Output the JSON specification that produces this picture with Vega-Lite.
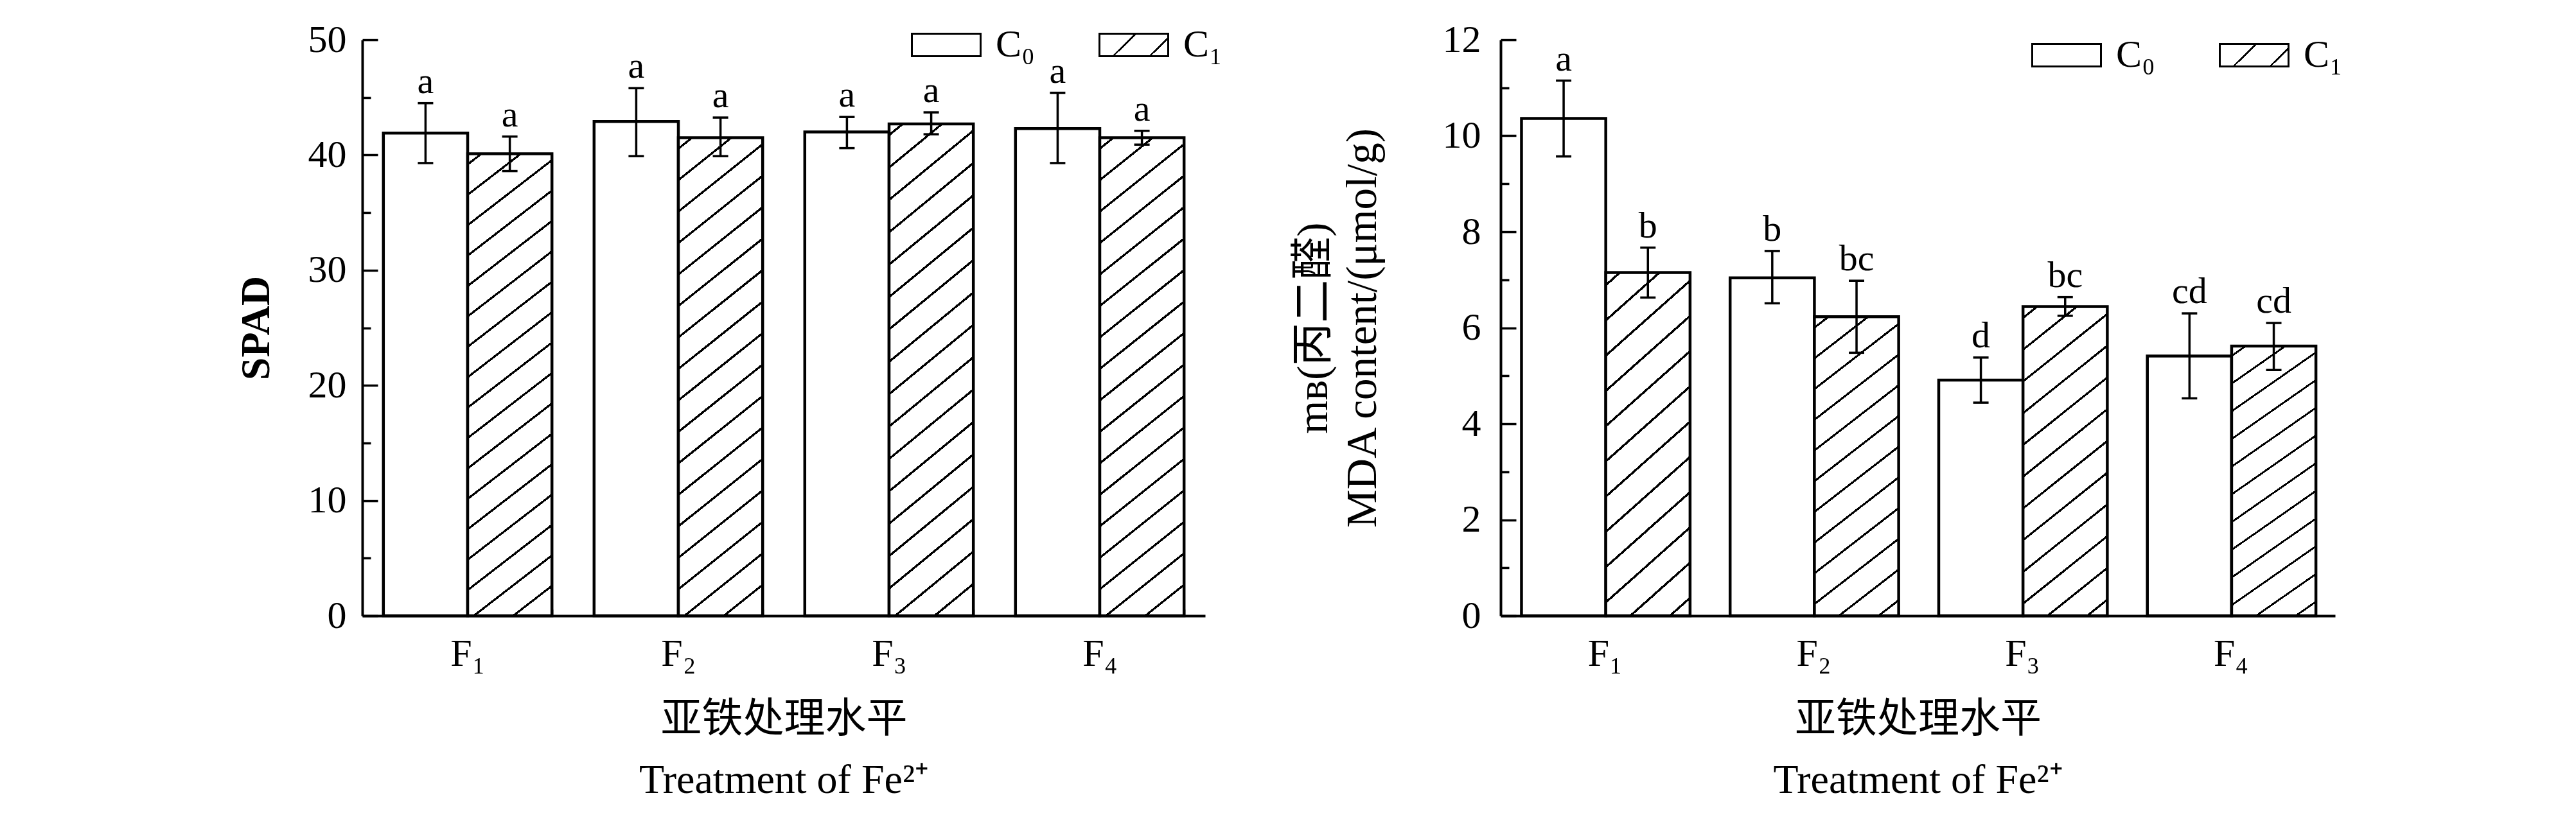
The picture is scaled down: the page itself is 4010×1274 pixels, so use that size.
{
  "$schema": "https://vega.github.io/schema/vega-lite/v6.json",
  "background": "white",
  "padding": {"left": 367, "top": 15, "right": 5, "bottom": 5},
  "spacing": 108,
  "config": {
    "view": {"stroke": null},
    "axis": {"domainColor": "#000", "domainWidth": 4, "tickColor": "#000", "tickWidth": 3.5, "labelColor": "#000", "titleColor": "#000", "labelFont": "Liberation Serif", "titleFont": "Liberation Serif, Noto Sans CJK SC", "grid": false, "labelFontSize": 60, "titleFontSize": 64, "titleFontWeight": "normal", "labelOverlap": false},
    "legend": {"labelFont": "Liberation Serif", "labelFontSize": 60, "labelColor": "#000"},
    "text": {"font": "Liberation Serif", "fontSize": 58, "color": "#000"}
  },
  "resolve": {"scale": {"fill": "independent", "y": "independent", "x": "independent"}, "legend": {"fill": "independent"}},
  "datasets": {
    "spad": [
      {"F": "F₁", "group": "C₀", "mean": 41.9, "lo": 39.3, "hi": 44.5, "letter": "a"},
      {"F": "F₁", "group": "C₁", "mean": 40.1, "lo": 38.6, "hi": 41.6, "letter": "a"},
      {"F": "F₂", "group": "C₀", "mean": 42.9, "lo": 39.9, "hi": 45.8, "letter": "a"},
      {"F": "F₂", "group": "C₁", "mean": 41.5, "lo": 39.9, "hi": 43.25, "letter": "a"},
      {"F": "F₃", "group": "C₀", "mean": 42.0, "lo": 40.6, "hi": 43.3, "letter": "a"},
      {"F": "F₃", "group": "C₁", "mean": 42.7, "lo": 41.8, "hi": 43.7, "letter": "a"},
      {"F": "F₄", "group": "C₀", "mean": 42.3, "lo": 39.3, "hi": 45.4, "letter": "a"},
      {"F": "F₄", "group": "C₁", "mean": 41.5, "lo": 40.9, "hi": 42.1, "letter": "a"}
    ],
    "mda": [
      {"F": "F₁", "group": "C₀", "mean": 10.36, "lo": 9.57, "hi": 11.15, "letter": "a"},
      {"F": "F₁", "group": "C₁", "mean": 7.15, "lo": 6.63, "hi": 7.67, "letter": "b"},
      {"F": "F₂", "group": "C₀", "mean": 7.04, "lo": 6.51, "hi": 7.6, "letter": "b"},
      {"F": "F₂", "group": "C₁", "mean": 6.23, "lo": 5.48, "hi": 6.98, "letter": "bc"},
      {"F": "F₃", "group": "C₀", "mean": 4.91, "lo": 4.44, "hi": 5.38, "letter": "d"},
      {"F": "F₃", "group": "C₁", "mean": 6.44, "lo": 6.25, "hi": 6.64, "letter": "bc"},
      {"F": "F₄", "group": "C₀", "mean": 5.41, "lo": 4.53, "hi": 6.3, "letter": "cd"},
      {"F": "F₄", "group": "C₁", "mean": 5.62, "lo": 5.12, "hi": 6.1, "letter": "cd"}
    ]
  },
  "hconcat": [
    {
      "width": 1312,
      "height": 897,
      "data": {"name": "spad"},
      "encoding": {
        "x": {"field": "F", "type": "nominal", "sort": null, "scale": {"paddingInner": 0.2, "paddingOuter": 0.1},
          "axis": {"title": ["亚铁处理水平", "Treatment of Fe²⁺"], "labelAngle": 0, "labelPadding": 40, "tickBand": "extent", "tickSize": -10, "titlePadding": 40, "titleLineHeight": 95}},
        "xOffset": {"field": "group", "type": "nominal", "scale": {"domain": ["C₀", "C₁"], "paddingInner": 0, "paddingOuter": 0}}
      },
      "layer": [
        {
          "transform": [{"filter": "datum.group === 'C₀'"}],
          "mark": {"type": "bar", "stroke": "#000", "strokeWidth": 4.5, "opacity": 1},
          "encoding": {
            "y": {"field": "mean", "type": "quantitative", "scale": {"domain": [0, 50], "nice": false},
              "axis": {"title": "SPAD", "titleFontWeight": "bold", "titlePadding": 48, "labelPadding": 49, "tickSize": -24, "format": "d",
                "values": [0, 5, 10, 15, 20, 25, 30, 35, 40, 45, 50],
                "labelExpr": "datum.value % 10 === 0 ? datum.label : ''",
                "tickDash": {"condition": {"test": "datum.value % 10 !== 0", "value": [13, 40]}, "value": [30, 40]}}},
            "fill": {"field": "group", "type": "nominal",
              "scale": {"domain": ["C₀", "C₁"], "range": ["#ffffff", {"expr": "{gradient: 'linear', x1: 0, y1: 0, x2: 1.2005, y2: 0.4034, stops: [{offset: 0, color: '#fff'}, {offset: 0.385, color: '#fff'}, {offset: 0.385, color: '#000'}, {offset: 0.411, color: '#000'}, {offset: 0.411, color: '#fff'}, {offset: 0.784, color: '#fff'}, {offset: 0.784, color: '#000'}, {offset: 0.81, color: '#000'}, {offset: 0.81, color: '#fff'}, {offset: 1, color: '#fff'}]}"}]},
              "legend": {"orient": "none", "legendX": 854, "legendY": -47, "direction": "horizontal", "title": null,
                "symbolType": "M-1,-0.327H1V0.327H-1Z", "symbolSize": 11449, "labelOffset": 22, "columnPadding": 94,
                "symbolStrokeColor": "#000", "symbolStrokeWidth": 3, "symbolOpacity": 1}}
          }
        },
        {
          "transform": [{"filter": "datum.group === 'C₁'"}],
          "mark": {"type": "bar", "stroke": "#000", "strokeWidth": 4.5, "opacity": 1,
            "fill": {"gradient": "linear", "x1": 0, "y1": 0, "x2": 0.1576, "y2": 1.1187, "stops": [
                {"offset": 0, "color": "#fff"},
                {"offset": 0.0175, "color": "#fff"}, {"offset": 0.0175, "color": "#000"}, {"offset": 0.0225, "color": "#000"}, {"offset": 0.0225, "color": "#fff"},
                {"offset": 0.0752, "color": "#fff"}, {"offset": 0.0752, "color": "#000"}, {"offset": 0.0802, "color": "#000"}, {"offset": 0.0802, "color": "#fff"},
                {"offset": 0.1329, "color": "#fff"}, {"offset": 0.1329, "color": "#000"}, {"offset": 0.1379, "color": "#000"}, {"offset": 0.1379, "color": "#fff"},
                {"offset": 0.1906, "color": "#fff"}, {"offset": 0.1906, "color": "#000"}, {"offset": 0.1956, "color": "#000"}, {"offset": 0.1956, "color": "#fff"},
                {"offset": 0.2483, "color": "#fff"}, {"offset": 0.2483, "color": "#000"}, {"offset": 0.2533, "color": "#000"}, {"offset": 0.2533, "color": "#fff"},
                {"offset": 0.306, "color": "#fff"}, {"offset": 0.306, "color": "#000"}, {"offset": 0.311, "color": "#000"}, {"offset": 0.311, "color": "#fff"},
                {"offset": 0.3637, "color": "#fff"}, {"offset": 0.3637, "color": "#000"}, {"offset": 0.3687, "color": "#000"}, {"offset": 0.3687, "color": "#fff"},
                {"offset": 0.4214, "color": "#fff"}, {"offset": 0.4214, "color": "#000"}, {"offset": 0.4264, "color": "#000"}, {"offset": 0.4264, "color": "#fff"},
                {"offset": 0.4791, "color": "#fff"}, {"offset": 0.4791, "color": "#000"}, {"offset": 0.4841, "color": "#000"}, {"offset": 0.4841, "color": "#fff"},
                {"offset": 0.5368, "color": "#fff"}, {"offset": 0.5368, "color": "#000"}, {"offset": 0.5418, "color": "#000"}, {"offset": 0.5418, "color": "#fff"},
                {"offset": 0.5945, "color": "#fff"}, {"offset": 0.5945, "color": "#000"}, {"offset": 0.5995, "color": "#000"}, {"offset": 0.5995, "color": "#fff"},
                {"offset": 0.6522, "color": "#fff"}, {"offset": 0.6522, "color": "#000"}, {"offset": 0.6572, "color": "#000"}, {"offset": 0.6572, "color": "#fff"},
                {"offset": 0.7099, "color": "#fff"}, {"offset": 0.7099, "color": "#000"}, {"offset": 0.7149, "color": "#000"}, {"offset": 0.7149, "color": "#fff"},
                {"offset": 0.7676, "color": "#fff"}, {"offset": 0.7676, "color": "#000"}, {"offset": 0.7726, "color": "#000"}, {"offset": 0.7726, "color": "#fff"},
                {"offset": 0.8253, "color": "#fff"}, {"offset": 0.8253, "color": "#000"}, {"offset": 0.8303, "color": "#000"}, {"offset": 0.8303, "color": "#fff"},
                {"offset": 0.883, "color": "#fff"}, {"offset": 0.883, "color": "#000"}, {"offset": 0.888, "color": "#000"}, {"offset": 0.888, "color": "#fff"},
                {"offset": 0.9407, "color": "#fff"}, {"offset": 0.9407, "color": "#000"}, {"offset": 0.9457, "color": "#000"}, {"offset": 0.9457, "color": "#fff"},
                {"offset": 1, "color": "#fff"}]}},
          "encoding": {
            "y": {"field": "mean", "type": "quantitative", "scale": {"domain": [0, 50], "nice": false}}
          }
        },
        {
          "mark": {"type": "rule", "color": "#000", "strokeWidth": 3.5},
          "encoding": {
            "y": {"field": "lo", "type": "quantitative", "scale": {"domain": [0, 50], "nice": false}},
            "y2": {"field": "hi"}
          }
        },
        {
          "mark": {"type": "tick", "color": "#000", "thickness": 3.5, "size": 24, "opacity": 1},
          "encoding": {"y": {"field": "lo", "type": "quantitative", "scale": {"domain": [0, 50], "nice": false}}}
        },
        {
          "mark": {"type": "tick", "color": "#000", "thickness": 3.5, "size": 24, "opacity": 1},
          "encoding": {"y": {"field": "hi", "type": "quantitative", "scale": {"domain": [0, 50], "nice": false}}}
        },
        {
          "mark": {"type": "text", "baseline": "alphabetic", "dy": -16},
          "encoding": {
            "y": {"field": "hi", "type": "quantitative", "scale": {"domain": [0, 50], "nice": false}},
            "text": {"field": "letter"}
          }
        }
      ]
    },
    {
      "width": 1299,
      "height": 897,
      "data": {"name": "mda"},
      "encoding": {
        "x": {"field": "F", "type": "nominal", "sort": null, "scale": {"paddingInner": 0.2, "paddingOuter": 0.1},
          "axis": {"title": ["亚铁处理水平", "Treatment of Fe²⁺"], "labelAngle": 0, "labelPadding": 40, "tickBand": "extent", "tickSize": -10, "titlePadding": 40, "titleLineHeight": 95}},
        "xOffset": {"field": "group", "type": "nominal", "scale": {"domain": ["C₀", "C₁"], "paddingInner": 0, "paddingOuter": 0}}
      },
      "layer": [
        {
          "transform": [{"filter": "datum.group === 'C₀'"}],
          "mark": {"type": "bar", "stroke": "#000", "strokeWidth": 4.5, "opacity": 1},
          "encoding": {
            "y": {"field": "mean", "type": "quantitative", "scale": {"domain": [0, 12], "nice": false},
              "axis": {"title": ["mʙ(丙二醛)", "MDA content/(μmol/g)"], "titleFontSize": 67, "titleLineHeight": 76, "titlePadding": 90, "labelPadding": 55, "tickSize": -24, "format": "d",
                "values": [0, 1, 2, 3, 4, 5, 6, 7, 8, 9, 10, 11, 12],
                "labelExpr": "datum.value % 2 === 0 ? datum.label : ''",
                "tickDash": {"condition": {"test": "datum.value % 2 !== 0", "value": [13, 40]}, "value": [30, 40]}}},
            "fill": {"field": "group", "type": "nominal",
              "scale": {"domain": ["C₀", "C₁"], "range": ["#ffffff", {"expr": "{gradient: 'linear', x1: 0, y1: 0, x2: 1.2005, y2: 0.4034, stops: [{offset: 0, color: '#fff'}, {offset: 0.385, color: '#fff'}, {offset: 0.385, color: '#000'}, {offset: 0.411, color: '#000'}, {offset: 0.411, color: '#fff'}, {offset: 0.784, color: '#fff'}, {offset: 0.784, color: '#000'}, {offset: 0.81, color: '#000'}, {offset: 0.81, color: '#fff'}, {offset: 1, color: '#fff'}]}"}]},
              "legend": {"orient": "none", "legendX": 826, "legendY": -31, "direction": "horizontal", "title": null,
                "symbolType": "M-1,-0.327H1V0.327H-1Z", "symbolSize": 11449, "labelOffset": 22, "columnPadding": 94,
                "symbolStrokeColor": "#000", "symbolStrokeWidth": 3, "symbolOpacity": 1}}
          }
        },
        {
          "transform": [{"filter": "datum.group === 'C₁'"}],
          "mark": {"type": "bar", "stroke": "#000", "strokeWidth": 4.5, "opacity": 1,
            "fill": {"gradient": "linear", "x1": 0, "y1": 0, "x2": 0.2539, "y2": 1.1629, "stops": [
                {"offset": 0, "color": "#fff"},
                {"offset": 0.0265, "color": "#fff"}, {"offset": 0.0265, "color": "#000"}, {"offset": 0.0335, "color": "#000"}, {"offset": 0.0335, "color": "#fff"},
                {"offset": 0.1108, "color": "#fff"}, {"offset": 0.1108, "color": "#000"}, {"offset": 0.1178, "color": "#000"}, {"offset": 0.1178, "color": "#fff"},
                {"offset": 0.1951, "color": "#fff"}, {"offset": 0.1951, "color": "#000"}, {"offset": 0.2021, "color": "#000"}, {"offset": 0.2021, "color": "#fff"},
                {"offset": 0.2794, "color": "#fff"}, {"offset": 0.2794, "color": "#000"}, {"offset": 0.2864, "color": "#000"}, {"offset": 0.2864, "color": "#fff"},
                {"offset": 0.3637, "color": "#fff"}, {"offset": 0.3637, "color": "#000"}, {"offset": 0.3707, "color": "#000"}, {"offset": 0.3707, "color": "#fff"},
                {"offset": 0.448, "color": "#fff"}, {"offset": 0.448, "color": "#000"}, {"offset": 0.455, "color": "#000"}, {"offset": 0.455, "color": "#fff"},
                {"offset": 0.5323, "color": "#fff"}, {"offset": 0.5323, "color": "#000"}, {"offset": 0.5393, "color": "#000"}, {"offset": 0.5393, "color": "#fff"},
                {"offset": 0.6166, "color": "#fff"}, {"offset": 0.6166, "color": "#000"}, {"offset": 0.6236, "color": "#000"}, {"offset": 0.6236, "color": "#fff"},
                {"offset": 0.7009, "color": "#fff"}, {"offset": 0.7009, "color": "#000"}, {"offset": 0.7079, "color": "#000"}, {"offset": 0.7079, "color": "#fff"},
                {"offset": 0.7852, "color": "#fff"}, {"offset": 0.7852, "color": "#000"}, {"offset": 0.7922, "color": "#000"}, {"offset": 0.7922, "color": "#fff"},
                {"offset": 0.8695, "color": "#fff"}, {"offset": 0.8695, "color": "#000"}, {"offset": 0.8765, "color": "#000"}, {"offset": 0.8765, "color": "#fff"},
                {"offset": 0.9538, "color": "#fff"}, {"offset": 0.9538, "color": "#000"}, {"offset": 0.9608, "color": "#000"}, {"offset": 0.9608, "color": "#fff"},
                {"offset": 1, "color": "#fff"}]}},
          "encoding": {
            "y": {"field": "mean", "type": "quantitative", "scale": {"domain": [0, 12], "nice": false}}
          }
        },
        {
          "mark": {"type": "rule", "color": "#000", "strokeWidth": 3.5},
          "encoding": {
            "y": {"field": "lo", "type": "quantitative", "scale": {"domain": [0, 12], "nice": false}},
            "y2": {"field": "hi"}
          }
        },
        {
          "mark": {"type": "tick", "color": "#000", "thickness": 3.5, "size": 24, "opacity": 1},
          "encoding": {"y": {"field": "lo", "type": "quantitative", "scale": {"domain": [0, 12], "nice": false}}}
        },
        {
          "mark": {"type": "tick", "color": "#000", "thickness": 3.5, "size": 24, "opacity": 1},
          "encoding": {"y": {"field": "hi", "type": "quantitative", "scale": {"domain": [0, 12], "nice": false}}}
        },
        {
          "mark": {"type": "text", "baseline": "alphabetic", "dy": -16},
          "encoding": {
            "y": {"field": "hi", "type": "quantitative", "scale": {"domain": [0, 12], "nice": false}},
            "text": {"field": "letter"}
          }
        }
      ]
    }
  ]
}
